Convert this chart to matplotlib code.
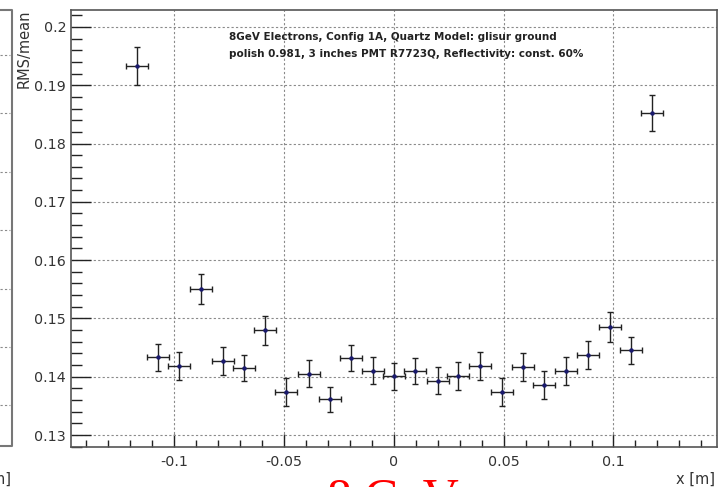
import matplotlib
matplotlib.use("Agg")
import matplotlib.pyplot as plt
from matplotlib.lines import Line2D
from matplotlib.ticker import MultipleLocator

# ---- data ----
x_pos = [-0.1171, -0.1073, -0.0979, -0.0876, -0.0777, -0.0682, -0.0585,
         -0.0489, -0.0388, -0.0291, -0.0194, -0.0094, 0.0, 0.0097,
         0.0199, 0.0293, 0.0392, 0.0491, 0.0587, 0.0685, 0.0784,
         0.0883, 0.0982, 0.1080, 0.1177]
rms_mean = [0.1933, 0.1433, 0.1418, 0.1551, 0.1427, 0.1415, 0.1480,
            0.1373, 0.1405, 0.1361, 0.1432, 0.1410, 0.1401, 0.1410,
            0.1393, 0.1401, 0.1418, 0.1373, 0.1417, 0.1386, 0.1410,
            0.1437, 0.1485, 0.1445, 0.1852]
rms_err = [0.0033, 0.0024, 0.0024, 0.0026, 0.0024, 0.0023, 0.0025,
           0.0024, 0.0023, 0.0022, 0.0023, 0.0023, 0.0023, 0.0022,
           0.0023, 0.0024, 0.0024, 0.0024, 0.0024, 0.0024, 0.0024,
           0.0024, 0.0026, 0.0024, 0.0031]
x_halfwidth = 0.005

x_ticks = [-0.1, -0.05, 0, 0.05, 0.1]
x_ticklabels = ['-0.1', '-0.05', '0', '0.05', '0.1']
y_ticks = [0.13, 0.14, 0.15, 0.16, 0.17, 0.18, 0.19, 0.2]
y_ticklabels = ['0.13', '0.14', '0.15', '0.16', '0.17', '0.18', '0.19', '0.2']

info_line1 = "8GeV Electrons, Config 1A, Quartz Model: glisur ground"
info_line2 = "polish 0.981, 3 inches PMT R7723Q, Reflectivity: const. 60%"

W, H = 719, 487
plt.rcParams['font.family'] = ['DejaVu Sans']
fig = plt.figure(figsize=(W / 100, H / 100), dpi=100)

def fx(px):
    return px / W

def fy(py):
    return 1 - py / H

# main axes
left, right, top, bottom = 71, 716.7, 10, 446.7
ax = fig.add_axes([fx(left), fy(bottom), fx(right - left), (bottom - top) / H])
ax.set_xlim(-0.147, 0.147)
ax.set_ylim(0.128, 0.2029)

ax.grid(True, which='major', color='#8a8a8a', linestyle=(0, (2, 2)), linewidth=0.8)
ax.set_axisbelow(True)

ax.errorbar(x_pos, rms_mean, xerr=x_halfwidth, yerr=rms_err, fmt='o',
            ms=2.2, mfc='#1a1a6e', mec='#1a1a6e', ecolor='#222222',
            elinewidth=1.0, capsize=2.5, capthick=1.0, zorder=3)

ax.xaxis.set_minor_locator(MultipleLocator(0.01))
ax.yaxis.set_minor_locator(MultipleLocator(0.002))

ax.tick_params(axis='x', which='major', direction='in', length=9.4, width=1,
               color='#222222', labelsize=10.3, labelcolor='#333333', pad=6)
ax.tick_params(axis='x', which='minor', direction='in', length=5, width=1,
               color='#222222')
ax.tick_params(axis='y', which='major', direction='in', length=14.4, width=1,
               color='#222222', labelsize=10.3, labelcolor='#333333', pad=3.5)
ax.tick_params(axis='y', which='minor', direction='in', length=7.7, width=1,
               color='#222222')
ax.tick_params(top=False, right=False, which='both')

ax.set_xticks(x_ticks)
ax.set_xticklabels(x_ticklabels)
ax.set_yticks(y_ticks)
ax.set_yticklabels(y_ticklabels)

for s in ax.spines.values():
    s.set_color('#555555')
    s.set_linewidth(1.2)

# axis titles (ROOT style: at the far ends)
fig.text(fx(24), fy(10), "RMS/mean", rotation=90, ha='center', va='top',
         fontsize=10.5, color='#333333')
fig.text(fx(715), fy(479), "x [m]", ha='right', va='center',
         fontsize=10.5, color='#333333')

# info text
fig.text(fx(229), fy(40), info_line1, ha='left', va='baseline',
         fontsize=7.5, fontweight='bold', color='#222222')
fig.text(fx(229), fy(56.7), info_line2, ha='left', va='baseline',
         fontsize=7.5, fontweight='bold', color='#222222')

# neighbouring panel fragment at the left edge
fig.add_artist(Line2D([fx(0), fx(11.5), fx(11.5), fx(0)],
                      [fy(10), fy(10), fy(446), fy(446)],
                      color='#777777', lw=1.5))
for gy in [55, 113, 172, 230, 289, 347, 405]:
    fig.add_artist(Line2D([fx(0), fx(10)], [fy(gy), fy(gy)],
                          color='#8a8a8a', lw=0.8, linestyle=(0, (2, 2))))
fig.text(fx(11), fy(479), "x [m]", ha='right', va='center',
         fontsize=10.5, color='#333333')

# large red label from the panel below (clipped by the figure edge)
fig.text(fx(393), fy(513), "8 GeV", ha='center', va='baseline',
         fontsize=36, color='red', family='Liberation Serif')

fig.savefig("out.png", dpi=100)
